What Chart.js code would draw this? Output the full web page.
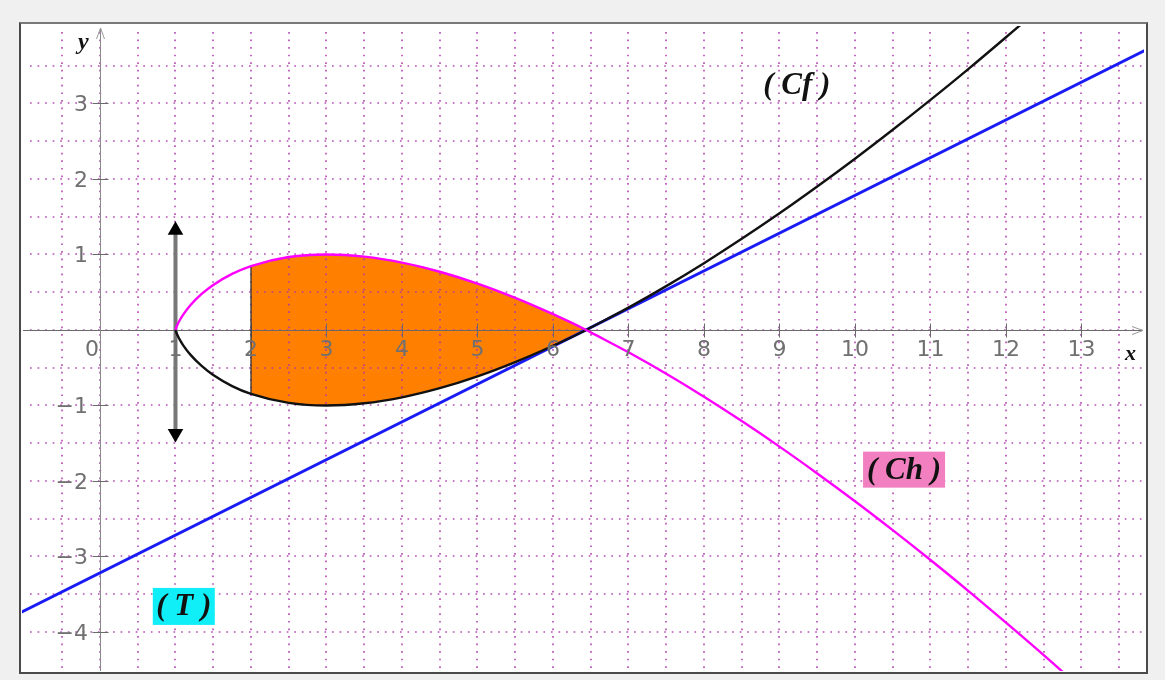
<!DOCTYPE html>
<html><head><meta charset="utf-8">
<script src="https://cdn.jsdelivr.net/npm/chart.js@4.4.1/dist/chart.umd.min.js"></script>
<style>
html,body{margin:0;padding:0;background:#f0f0f0;width:1165px;height:680px;overflow:hidden}
#frame{position:absolute;left:19px;top:22px;width:1129px;height:652px;box-sizing:border-box;border:2px solid #4a4a4a;border-top-color:#7a7a7a;background:#fff}
canvas{position:absolute;left:0;top:0}
</style></head><body>
<div id="frame"></div>
<canvas id="c" width="1165" height="680"></canvas>
<script>
// ---- data ----
const curveX = [1, 1.01, 1.03, 1.06, 1.1, 1.2, 1.35, 1.5, 1.75, 2, 2.5, 3, 3.5, 4, 4.5, 5, 5.5, 6, 6.44, 6.5, 7, 7.5, 8, 8.5, 9, 9.5, 10, 10.5, 11, 11.5, 12, 12.5, 13, 13.5, 14];
const chY = [0, 0.03, 0.078, 0.135, 0.2, 0.33, 0.48, 0.597, 0.743, 0.847, 0.966, 1.0, 0.971, 0.892, 0.771, 0.614, 0.425, 0.209, 0, -0.032, -0.296, -0.581, -0.885, -1.207, -1.545, -1.9, -2.268, -2.651, -3.047, -3.455, -3.877, -4.307, -4.751, -5.204, -5.668];
const cfY = [0, -0.03, -0.078, -0.135, -0.2, -0.33, -0.48, -0.597, -0.743, -0.847, -0.966, -1.0, -0.971, -0.892, -0.771, -0.614, -0.425, -0.209, 0, 0.032, 0.296, 0.581, 0.885, 1.207, 1.545, 1.9, 2.268, 2.651, 3.047, 3.455, 3.877, 4.307, 4.751, 5.204, 5.668];
const areaX = [2, 2.5, 3, 3.5, 4, 4.5, 5, 5.5, 6, 6.44];
const areaTop = [0.847, 0.966, 1.0, 0.971, 0.892, 0.771, 0.614, 0.425, 0.209, 0];
const areaBottom = [-0.847, -0.966, -1.0, -0.971, -0.892, -0.771, -0.614, -0.425, -0.209, 0];
const edgeX = [2, 2];
const edgeY = [-0.847, 0.847];
const tangentX = [-1.1, 14];
const tangentY = [-3.768, 3.782];
const arrowX = [1, 1];
const arrowY = [-1.37, 1.32];
const xTickValues = [0, 1, 2, 3, 4, 5, 6, 7, 8, 9, 10, 11, 12, 13];
const xTickLabels = ['0', '1', '2', '3', '4', '5', '6', '7', '8', '9', '10', '11', '12', '13'];
const yTickValues = [-4, -3, -2, -1, 1, 2, 3];
const yTickLabels = ['\u22124', '\u22123', '\u22122', '\u22121', '1', '2', '3'];
const curveNames = ['( Cf )', '( Ch )', '( T )'];
const axisNames = ['x', 'y'];

const pts = (xs, ys) => xs.map((x, i) => ({x: x, y: ys[i]}));

const underlay = {
  id: 'underlay',
  afterDatasetDraw(chart, args) {
    if (args.index !== 1) return;
    const {ctx, chartArea: a, scales: {x, y}} = chart;
    ctx.save();
    ctx.beginPath(); ctx.rect(a.left, a.top, a.right - a.left, a.bottom - a.top); ctx.clip();
    // dotted grid
    ctx.strokeStyle = 'rgba(170,50,170,0.85)';
    ctx.lineWidth = 1.7;
    ctx.setLineDash([1.7, 5.85]);
    for (let k = Math.ceil(x.min * 2); k <= Math.floor(x.max * 2); k++) {
      const px = Math.round(x.getPixelForValue(k / 2));
      if (px - a.left < 8 || a.right - px < 8) continue;
      ctx.beginPath(); ctx.moveTo(px, a.top + 6); ctx.lineTo(px, a.bottom); ctx.stroke();
    }
    for (let k = Math.ceil(y.min * 2); k <= Math.floor(y.max * 2); k++) {
      const py = Math.round(y.getPixelForValue(k / 2));
      if (py - a.top < 8 || a.bottom - py < 8) continue;
      ctx.beginPath(); ctx.moveTo(a.left + 8, py); ctx.lineTo(a.right, py); ctx.stroke();
    }
    ctx.setLineDash([]);
    // axes
    const x0 = Math.round(x.getPixelForValue(0)) + 0.5;
    const y0 = Math.round(y.getPixelForValue(0)) + 0.5;
    ctx.strokeStyle = '#6a6a6a';
    ctx.lineWidth = 1;
    ctx.beginPath(); ctx.moveTo(a.left + 1, y0); ctx.lineTo(a.right - 1, y0); ctx.stroke();
    ctx.strokeStyle = '#8a8a8a';
    ctx.beginPath(); ctx.moveTo(x0, a.bottom); ctx.lineTo(x0, a.top + 2); ctx.stroke();
    // arrow heads
    ctx.strokeStyle = '#999';
    ctx.beginPath();
    ctx.moveTo(a.right - 12, y0 - 4); ctx.lineTo(a.right - 1, y0); ctx.lineTo(a.right - 12, y0 + 4);
    ctx.moveTo(x0 - 4, a.top + 13); ctx.lineTo(x0, a.top + 2); ctx.lineTo(x0 + 4, a.top + 13);
    ctx.stroke();
    // tick marks
    ctx.strokeStyle = '#6a6a6a';
    ctx.beginPath();
    xTickValues.forEach(v => { if (v === 0) return; const px = Math.round(x.getPixelForValue(v)) + 0.5; ctx.moveTo(px, y0 - 7); ctx.lineTo(px, y0 + 7); });
    yTickValues.forEach(v => { const py = Math.round(y.getPixelForValue(v)) + 0.5; ctx.moveTo(x0 - 8, py); ctx.lineTo(x0 + 8, py); });
    ctx.stroke();
    ctx.restore();
  },
  afterDatasetsDraw(chart) {
    const {ctx, scales: {x, y}} = chart;
    const x0 = x.getPixelForValue(0), y0 = y.getPixelForValue(0);
    ctx.save();
    ctx.font = '22px "DejaVu Sans"';
    ctx.fillStyle = '#707070';
    ctx.textBaseline = 'middle';
    ctx.textAlign = 'center';
    xTickValues.forEach((v, i) => {
      const px = x.getPixelForValue(v) + (v === 0 ? -8 : 0);
      ctx.fillText(xTickLabels[i], px, y0 + 20);
    });
    ctx.textAlign = 'right';
    yTickValues.forEach((v, i) => {
      ctx.fillText(yTickLabels[i], x0 - 12, y.getPixelForValue(v) + 2);
    });
    // axis names
    ctx.fillStyle = '#111';
    ctx.textAlign = 'center';
    ctx.font = 'italic bold 22px "Liberation Serif"';
    ctx.fillText(axisNames[0], x.getPixelForValue(13.65), y0 + 24);
    ctx.font = 'italic bold 24px "Liberation Serif"';
    ctx.fillText(axisNames[1], x.getPixelForValue(-0.22), y.getPixelForValue(3.8));
    // curve names
    ctx.font = 'italic bold 31px "Liberation Serif"';
    ctx.fillText(curveNames[0], x.getPixelForValue(9.23), y.getPixelForValue(3.23));
    let cx = x.getPixelForValue(10.65), cy = y.getPixelForValue(-1.85);
    ctx.fillStyle = '#f27fc0';
    ctx.fillRect(cx - 41, cy - 18, 82, 36);
    ctx.fillStyle = '#111';
    ctx.fillText(curveNames[1], cx, cy + 1);
    cx = x.getPixelForValue(1.11); cy = y.getPixelForValue(-3.655);
    ctx.fillStyle = '#10eef8';
    ctx.fillRect(cx - 31, cy - 18, 62, 37);
    ctx.fillStyle = '#111';
    ctx.fillText(curveNames[2], cx, cy + 1);
    ctx.restore();
  }
};

new Chart(document.getElementById('c'), {
  type: 'line',
  data: {
    datasets: [
      {label: 'areaBottom', data: pts(areaX, areaBottom), borderWidth: 0, pointRadius: 0, fill: false, order: 11, cubicInterpolationMode: 'monotone'},
      {label: 'areaTop', data: pts(areaX, areaTop), borderWidth: 0, pointRadius: 0, fill: '-1', backgroundColor: '#ff8000', order: 10, cubicInterpolationMode: 'monotone'},
      {label: 'edge', data: pts(edgeX, edgeY), borderColor: '#333', borderWidth: 1.3, pointRadius: 0, fill: false, order: 5},
      {label: 'arrow', data: pts(arrowX, arrowY), borderColor: '#777', borderWidth: 4, pointStyle: 'triangle', pointRadius: 9, pointRotation: [180, 0], pointBackgroundColor: '#000', pointBorderColor: '#000', pointBorderWidth: 0, fill: false, order: 4},
      {label: 'T', data: pts(tangentX, tangentY), borderColor: '#1a1af5', borderWidth: 2.8, pointRadius: 0, fill: false, order: 3},
      {label: 'Cf', data: pts(curveX, cfY), borderColor: '#111', borderWidth: 2.4, pointRadius: 0, fill: false, order: 2, cubicInterpolationMode: 'monotone'},
      {label: 'Ch', data: pts(curveX, chY), borderColor: '#ff00ff', borderWidth: 2.4, pointRadius: 0, fill: false, order: 1, cubicInterpolationMode: 'monotone'}
    ]
  },
  options: {
    responsive: false,
    animation: false,
    events: [],
    devicePixelRatio: 1,
    layout: {padding: {left: 22, top: 26, right: 21, bottom: 9}},
    plugins: {legend: {display: false}, tooltip: {enabled: false}},
    scales: {
      x: {type: 'linear', min: -1.033, max: 13.828, display: false},
      y: {type: 'linear', min: -4.517, max: 4.026, display: false}
    }
  },
  plugins: [underlay]
});
</script>
</body></html>
